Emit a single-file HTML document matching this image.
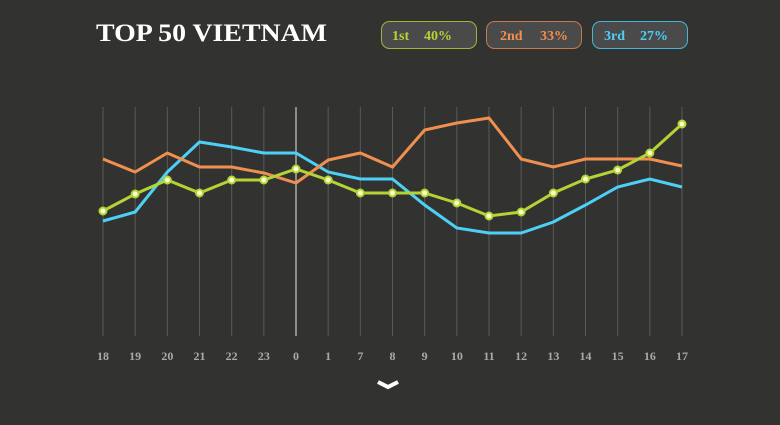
<!DOCTYPE html>
<html><head><meta charset="utf-8"><style>
body{margin:0;background:#323330;width:780px;height:420px;overflow:hidden;font-family:"Liberation Serif",serif}
</style></head><body>
<svg width="780" height="420" id="c">
<rect width="780" height="420" fill="#323330"/>
<text x="96" y="41" fill="#fff" font-size="25" font-weight="bold" font-family="Liberation Serif,serif" textLength="231" lengthAdjust="spacingAndGlyphs">TOP 50 VIETNAM</text>
<g><rect x="381.5" y="21.5" width="95" height="27" rx="8" fill="#4a4a4a" stroke="#9ab836"/><text x="392" y="40" fill="#b5d335" font-size="14" font-weight="bold">1st</text><text x="424" y="40" fill="#b5d335" font-size="14" font-weight="bold">40%</text></g>
<g><rect x="486.5" y="21.5" width="95" height="27" rx="8" fill="#4a4a4a" stroke="#c57a4c"/><text x="500" y="40" fill="#f08f4f" font-size="14" font-weight="bold">2nd</text><text x="540" y="40" fill="#f08f4f" font-size="14" font-weight="bold">33%</text></g>
<g><rect x="592.5" y="21.5" width="95" height="27" rx="8" fill="#4a4a4a" stroke="#43b8d8"/><text x="604" y="40" fill="#4dd0f5" font-size="14" font-weight="bold">3rd</text><text x="640" y="40" fill="#4dd0f5" font-size="14" font-weight="bold">27%</text></g>
<g id="grid"></g><g id="lines"></g><g id="labels"></g>
<path d="M378 382 L388 387 L398 382" stroke="#fff" stroke-width="4" fill="none"/>
</svg>
<script>
const categories=["18","19","20","21","22","23","0","1","7","8","9","10","11","12","13","14","15","16","17"];
const first=[129,146,160,147,160,160,171,160,147,147,147,137,124,128,147,161,170,187,216];
const second=[181,168,187,173,173,167,157,180,187,173,210,217,222,181,173,181,181,181,174];
const third=[119,128,168,198,193,187,187,168,161,161,135,112,107,107,118,135,153,161,153];
const NS="http://www.w3.org/2000/svg";
const x=i=>103+i*(682-103)/(categories.length-1);
const y=v=>340-v;
const grid=document.getElementById('grid'),lines=document.getElementById('lines'),labels=document.getElementById('labels');
categories.forEach((c,i)=>{
 const l=document.createElementNS(NS,'line');
 l.setAttribute('x1',x(i));l.setAttribute('x2',x(i));l.setAttribute('y1',107);l.setAttribute('y2',336);
 l.setAttribute('stroke',c==="0"?'#aaa':'#5a5a58');l.setAttribute('stroke-width',c==="0"?1.5:1);
 
 
 grid.appendChild(l);
 const t=document.createElementNS(NS,'text');
 t.setAttribute('x',x(i));t.setAttribute('y',360);t.setAttribute('text-anchor','middle');
 t.setAttribute('fill','#aaa');t.setAttribute('font-size','12');t.setAttribute('font-weight','bold');
 t.textContent=c;
 
 
 labels.appendChild(t);
});
function draw(arr,color,name,dots){
 const p=document.createElementNS(NS,'polyline');
 p.setAttribute('points',arr.map((v,i)=>x(i)+','+y(v)).join(' '));
 p.setAttribute('fill','none');p.setAttribute('stroke',color);p.setAttribute('stroke-width',3);
 
 
 lines.appendChild(p);
 if(dots)arr.forEach((v,i)=>{
  const c=document.createElementNS(NS,'circle');
  c.setAttribute('cx',x(i));c.setAttribute('cy',y(v));c.setAttribute('r',3.5);
  c.setAttribute('fill','#f4ffd0');c.setAttribute('stroke',color);c.setAttribute('stroke-width',2);
  
  
  lines.appendChild(c);
 });
}
draw(third,'#4dd0f5','line-3rd',false);
draw(second,'#f08f4f','line-2nd',false);
draw(first,'#b5d335','line-1st',true);
</script>
</body></html>
